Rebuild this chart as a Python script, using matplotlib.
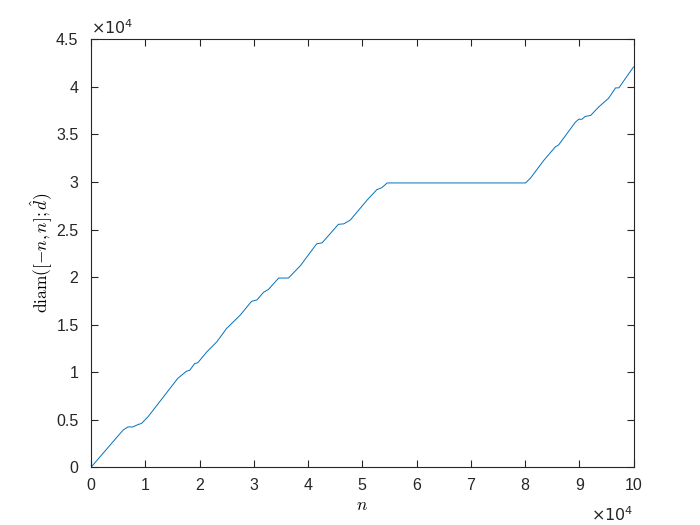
import numpy as np
import matplotlib
matplotlib.use("Agg")
import matplotlib.pyplot as plt
from matplotlib.ticker import FuncFormatter

plt.rcParams['font.family'] = ['Liberation Sans', 'DejaVu Sans']
plt.rcParams['mathtext.fontset'] = 'custom'
plt.rcParams['mathtext.rm'] = 'Liberation Sans'
plt.rcParams['mathtext.it'] = 'Liberation Sans:italic'

# values
n_vals = [0, 5900, 6800, 7700, 8700, 9300, 10500, 16000, 17600, 18200, 19100,
          19700, 21300, 23200, 25000, 27500, 29600, 30600, 31800, 32700, 34600,
          36400, 38600, 41600, 42600, 45600, 46600, 47800, 50900, 52700, 53600,
          54600, 80100, 81000, 83500, 85600, 86200, 89300, 89900, 90500, 91100,
          92100, 93600, 95400, 96700, 97300, 100000]
diam_vals = [0, 3900, 4240, 4240, 4500, 4600, 5300, 9350, 10100, 10200, 10900,
             11000, 12100, 13200, 14600, 16000, 17450, 17600, 18400, 18700, 19900,
             19900, 21200, 23500, 23600, 25550, 25600, 26000, 28100, 29200, 29400,
             29900, 29900, 30400, 32300, 33700, 33900, 36300, 36600, 36600, 36900,
             37000, 37900, 38800, 39900, 39900, 42100]

x_ticks = np.arange(0, 100001, 10000)
y_ticks = np.arange(0, 45001, 5000)

fig = plt.figure(figsize=(7, 5.25), dpi=100)
ax = fig.add_axes([0.13, 0.11, 0.775, 0.815])
ax.plot(n_vals, diam_vals, color='#0072BD', linewidth=0.7)

ax.set_xlim(0, 100000)
ax.set_ylim(0, 45000)
ax.set_xticks(x_ticks)
ax.set_yticks(y_ticks)
ax.xaxis.set_major_formatter(FuncFormatter(lambda v, p: '%g' % (v / 1e4)))
ax.yaxis.set_major_formatter(FuncFormatter(lambda v, p: '%g' % (v / 1e4)))

axis_col = '#262626'
for s in ax.spines.values():
    s.set_color(axis_col)
    s.set_linewidth(0.8)
ax.tick_params(direction='in', length=5, width=0.8, colors=axis_col,
               labelsize=11.5, top=True, right=True)
ax.tick_params(axis='x', pad=8)
ax.tick_params(axis='y', pad=9)

ax.set_xlabel(r'$n$', math_fontfamily='cm', fontsize=12.5, labelpad=3)
ax.set_ylabel(r'$\mathrm{diam}([-n,n];\hat{d})$', math_fontfamily='cm',
              fontsize=12.5, labelpad=1)

ax.text(0.0, 1.005, r'$\times10^{4}$', transform=ax.transAxes, fontsize=11.5,
        color=axis_col, ha='left', va='bottom', math_fontfamily='dejavusans')
ax.text(1.0, -0.09, r'$\times10^{4}$', transform=ax.transAxes, fontsize=11.5,
        color=axis_col, ha='right', va='top', math_fontfamily='dejavusans')

fig.savefig('out.png', dpi=100)
